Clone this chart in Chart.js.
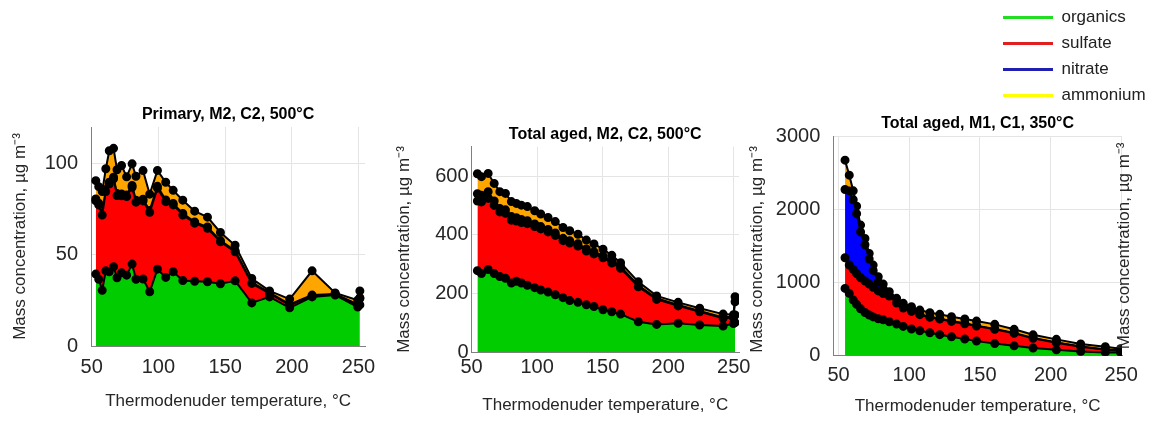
<!DOCTYPE html>
<html>
<head>
<meta charset="utf-8">
<script src="https://cdn.jsdelivr.net/npm/chart.js@4.4.1/dist/chart.umd.min.js"></script>
<style>
    html, body { margin: 0; padding: 0; background: #fff; }
    body { width: 1149px; height: 423px; position: relative; overflow: hidden; }
    .panel { position: absolute; top: 0; height: 423px; }
    #legendBox { position: absolute; left: 994px; top: 0; width: 155px; height: 240px; pointer-events: none; }
</style>
</head>
<body>
<div class="panel" style="left:0;width:385px"><canvas id="panel1"></canvas></div>
<div class="panel" style="left:385px;width:385px"><canvas id="panel2"></canvas></div>
<div class="panel" style="left:770px;width:379px"><canvas id="panel3"></canvas></div>
<div id="legendBox"><canvas id="legend"></canvas></div>
<script>
// species names and colours
const species = ['organics', 'sulfate', 'nitrate', 'ammonium'];
const fillColours = ['#00cc00', '#ff0000', '#0000ff', '#ffa500'];
const legendColours = ['#22dd22', '#e02020', '#2020b0', '#ffff00'];

const xTicks = [50, 100, 150, 200, 250];

// Primary, M2, C2, 500 C
const temps1 = [53.1, 55.3, 57.9, 60.6, 63.2, 66.4, 69, 72.4, 76.2, 80.3, 83.2, 88.5, 93.5, 99.3, 105.5, 111.1, 118.3, 127.2, 136.8, 146.5, 157.5, 170, 183.3, 198.4, 215.2, 232.5, 249.4, 251];
const org1 = [39.4, 36.6, 30.5, 41.2, 40.7, 43.4, 37.4, 40.1, 38.8, 44.9, 36.6, 36.7, 29.7, 42.1, 37.6, 40.7, 35.9, 35.5, 35.2, 34.1, 35.7, 23.6, 26.9, 20.9, 26.9, 27.9, 21.4, 22.5];
const sulf1 = [40.1, 40.7, 41.3, 43.4, 48.0, 48.2, 45.0, 42.2, 43.1, 42.1, 42.2, 42.8, 43.6, 44.4, 41.5, 36.6, 35.9, 31.8, 29.3, 23.0, 15.9, 10.7, 1.9, 1.5, 0.6, 0.3, 1.0, 3.5];
const nit1 = [1.1, 0.9, 1.0, 1.2, 1.0, 0.9, 1.1, 1.0, 0.8, 1.0, 1.1, 0.9, 1.0, 1.0, 0.9, 0.8, 0.8, 0.7, 0.7, 0.6, 0.6, 0.5, 0.4, 0.4, 0.4, 0.3, 0.4, 0.5];
const amm1 = [10.0, 9.1, 11.8, 11.3, 17.3, 15.8, 13.1, 15.6, 10.0, 11.8, 13.1, 15.7, 8.9, 8.7, 9.7, 7.2, 7.3, 5.9, 5.4, 4.5, 3.0, 2.2, 1.0, 2.9, 13.3, 0.6, 2.3, 3.7];
const yTicks1 = [0, 50, 100];

// Total aged, M2, C2, 500 C
const temps2 = [54.5, 57.6, 62.7, 67.3, 71.6, 75.9, 80.4, 84.2, 88, 92.6, 98.2, 102.8, 108.4, 113.9, 119.8, 124.9, 131.2, 137.6, 143.4, 150.3, 157, 163.7, 177.2, 191.2, 207.6, 224, 241.9, 249.8, 251];
const org2 = [278, 268, 282, 268, 258, 252, 236, 242, 236, 228, 220, 212, 205, 196, 186, 176, 170, 162, 156, 145, 138, 130, 104, 95, 99, 93, 89.5, 98, 101];
const sulf2 = [237, 244, 242, 232, 220, 221, 214, 205, 206, 210, 208, 208, 205, 202, 194, 196, 192, 183, 179, 177, 166, 156, 119, 85, 59, 45, 26.5, 20, 26];
const nit2 = [25, 23, 23, 15, 12, 12, 12, 11, 10, 10, 9, 8, 8, 8, 8, 8, 8, 7, 7, 6, 6, 6, 5, 4, 3, 3, 3, 3, 45];
const amm2 = [68, 63, 62, 60, 57, 56, 51, 49, 49, 48, 45, 43, 41, 39, 37, 34, 32, 30, 27, 23, 20, 13, 12, 8, 9, 9, 11, 7, 17];
const yTicks2 = [0, 200, 400, 600];

// Total aged, M1, C1, 350 C
const temps3 = [54.6, 57.6, 60.4, 62.8, 65.6, 68.7, 71.7, 74.5, 78.1, 81.6, 85.9, 91.1, 95.8, 101.6, 107.5, 114.6, 121.6, 129.9, 139.3, 147.6, 160.5, 174.2, 187.6, 204.1, 221.3, 238.7, 249.5];
const org3 = [919, 851, 760, 700, 640, 590, 555, 530, 505, 490, 464, 432, 400, 364, 341, 314, 287, 259, 228, 200, 165, 135, 105, 80, 58, 45, 42];
const sulf3 = [418, 386, 418, 420, 425, 430, 423, 405, 380, 358, 351, 286, 252, 241, 219, 210, 213, 209, 209, 205, 195, 170, 132, 98, 65, 37, 26];
const nit3 = [933, 1013, 952, 820, 625, 495, 342, 230, 125, 67, 5, 5, 5, 5, 5, 5, 5, 5, 5, 5, 5, 5, 5, 4, 4, 4, 4];
const amm3 = [400, 215, 121, 102, 93, 86, 77, 72, 68, 63, 53, 60, 58, 59, 58, 58, 60, 59, 59, 63, 63, 50, 43, 41, 33, 37, 23];
const yTicks3 = [0, 1000, 2000, 3000];

const massLabel = 'Mass concentration, µg m⁻³';
const tempLabel = 'Thermodenuder temperature, °C';

Chart.defaults.font.family = '"Liberation Sans", Arial, sans-serif';

// y label on the right side, reading bottom to top like the left one
const sideLabel = {
    id: 'sideLabel',
    afterDraw(chart, args, opts) {
        if (!opts.text) return;
        const {ctx, chartArea} = chart;
        ctx.save();
        ctx.translate(opts.x, (chartArea.top + chartArea.bottom) / 2);
        ctx.rotate(-Math.PI / 2);
        ctx.font = '17px "Liberation Sans", Arial, sans-serif';
        ctx.fillStyle = '#262626';
        ctx.textAlign = 'center';
        ctx.textBaseline = 'middle';
        ctx.fillText(opts.text, 0, 0);
        ctx.restore();
    }
};

function stackSets(temps, seriesList) {
    return seriesList.map((vals, k) => ({
        label: species[k],
        data: vals.map((v, i) => ({x: temps[i], y: v})),
        backgroundColor: fillColours[k],
        borderColor: '#000',
        borderWidth: 2,
        pointRadius: 3.5,
        pointBackgroundColor: '#000',
        pointBorderColor: '#000',
        fill: k === 0 ? 'origin' : '-1',
        tension: 0
    }));
}

function makePanel(id, p) {
    return new Chart(document.getElementById(id), {
        type: 'line',
        data: { datasets: stackSets(p.temps, p.series) },
        options: {
            responsive: true,
            maintainAspectRatio: false,
            animation: false,
            layout: { padding: p.pad },
            plugins: {
                legend: { display: false },
                tooltip: { enabled: false },
                title: {
                    display: true,
                    text: p.title,
                    fullSize: false,
                    color: '#000',
                    font: { size: 16, weight: 'bold' },
                    padding: { top: 0, bottom: p.titleGap }
                },
                sideLabel: { text: p.rightLabel, x: p.rightX }
            },
            scales: {
                x: {
                    type: 'linear',
                    min: p.xMin,
                    max: p.xMax,
                    afterBuildTicks: s => { s.ticks = xTicks.map(v => ({value: v})); },
                    afterFit: s => { s.height = p.xHeight; },
                    grid: { color: '#e4e4e4', drawTicks: false },
                    border: { color: '#808080' },
                    ticks: { padding: p.xPad, color: '#262626', font: { size: 20 }, callback: v => String(v) },
                    title: { display: true, text: tempLabel, color: '#262626', font: { size: 17 }, padding: 0 }
                },
                y: {
                    stacked: true,
                    min: 0,
                    max: p.yMax,
                    afterBuildTicks: s => { s.ticks = p.yTicks.map(v => ({value: v})); },
                    afterFit: s => { s.width = p.yWidth; },
                    grid: { color: '#e4e4e4', drawTicks: false },
                    border: { color: '#808080' },
                    ticks: { padding: p.yPad, color: '#262626', font: { size: 20 }, callback: v => String(v) },
                    title: { display: p.leftLabel, text: massLabel, color: '#262626', font: { size: 17 }, padding: 0 }
                }
            }
        },
        plugins: [sideLabel]
    });
}

makePanel('panel1', {
    temps: temps1, series: [org1, sulf1, nit1, amm1], yTicks: yTicks1,
    title: 'Primary, M2, C2, 500°C',
    xMin: 49.5, xMax: 255, yMax: 120,
    pad: { left: 10.5, right: 8, top: 105.4, bottom: 11.1 },
    yWidth: 80.5, xHeight: 65.9, titleGap: 2.4, yPad: 13, xPad: 9.3,
    leftLabel: true
});

makePanel('panel2', {
    temps: temps2, series: [org2, sulf2, nit2, amm2], yTicks: yTicks2,
    title: 'Total aged, M2, C2, 500°C',
    xMin: 50, xMax: 254, yMax: 700,
    pad: { left: 8.8, right: 31, top: 125.4, bottom: 7.8 },
    yWidth: 77.7, xHeight: 62.9, titleGap: 2.1, yPad: 3, xPad: 3,
    leftLabel: true, rightLabel: massLabel, rightX: 372
});

makePanel('panel3', {
    temps: temps3, series: [org3, sulf3, nit3, amm3], yTicks: yTicks3,
    title: 'Total aged, M1, C1, 350°C',
    xMin: 46.3, xMax: 250.5, yMax: 3000,
    pad: { left: 0, right: 27, top: 113.7, bottom: 6.1 },
    yWidth: 63.3, xHeight: 61.2, titleGap: 3.1, yPad: 13, xPad: 7.9,
    leftLabel: false, rightLabel: massLabel, rightX: 354
});

// legend with line samples
new Chart(document.getElementById('legend'), {
    type: 'line',
    data: {
        datasets: species.map((name, k) => ({
            label: name,
            data: [],
            backgroundColor: legendColours[k],
            borderWidth: 0
        }))
    },
    options: {
        responsive: true,
        maintainAspectRatio: false,
        animation: false,
        layout: { padding: 0 },
        scales: { x: { display: false }, y: { display: false } },
        plugins: {
            tooltip: { enabled: false },
            legend: {
                position: 'top',
                align: 'start',
                labels: { boxWidth: 50, boxHeight: 3, padding: 9, color: '#222', font: { size: 17 } }
            }
        }
    }
});
</script>
</body>
</html>
